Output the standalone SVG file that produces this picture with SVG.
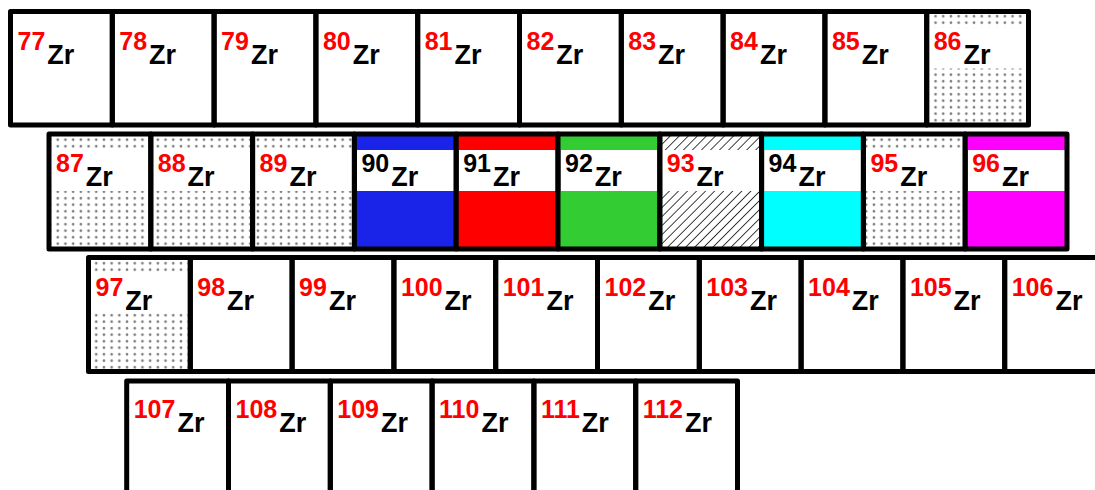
<svg xmlns="http://www.w3.org/2000/svg" width="1095" height="490" viewBox="0 0 1095 490">
<defs>
<pattern id="dots" width="7.7" height="6.5" patternUnits="userSpaceOnUse">
<circle cx="3.85" cy="3.25" r="1.3" fill="#7a7a7a"/>
</pattern>
<pattern id="hatch" width="6.4" height="6.4" patternUnits="userSpaceOnUse" patternTransform="rotate(45)">
<line x1="0" y1="0" x2="0" y2="6.4" stroke="#000" stroke-width="1.5"/>
</pattern>
<style>
.frame{fill:none;stroke:#000;stroke-width:5;stroke-linejoin:round}
.t{font-family:"Liberation Sans",Arial,sans-serif;font-weight:bold}
.m{font-size:25px;fill:#ff0000}
.mb{font-size:25px;fill:#000}
.z{font-size:27px;fill:#000}
.dot{fill:url(#dots)}
.hat{fill:url(#hatch)}
.blue{fill:#1a24e8}
.red{fill:#ff0000}
.green{fill:#33cc33}
.cyan{fill:#00ffff}
.mag{fill:#ff00ff}
</style>
</defs>
<rect width="1095" height="490" fill="#fff"/>

<!-- Row 1 -->
<g id="n77"><rect class="frame" x="10.5" y="11.5" width="101.8" height="113.5"/><text class="t" x="17.5" y="49.5"><tspan class="m">77</tspan><tspan class="z" dx="2" dy="14">Zr</tspan></text></g>
<g id="n78"><rect class="frame" x="112.3" y="11.5" width="101.8" height="113.5"/><text class="t" x="119.3" y="49.5"><tspan class="m">78</tspan><tspan class="z" dx="2" dy="14">Zr</tspan></text></g>
<g id="n79"><rect class="frame" x="214.1" y="11.5" width="101.8" height="113.5"/><text class="t" x="221.1" y="49.5"><tspan class="m">79</tspan><tspan class="z" dx="2" dy="14">Zr</tspan></text></g>
<g id="n80"><rect class="frame" x="315.9" y="11.5" width="101.8" height="113.5"/><text class="t" x="322.9" y="49.5"><tspan class="m">80</tspan><tspan class="z" dx="2" dy="14">Zr</tspan></text></g>
<g id="n81"><rect class="frame" x="417.7" y="11.5" width="101.8" height="113.5"/><text class="t" x="424.7" y="49.5"><tspan class="m">81</tspan><tspan class="z" dx="2" dy="14">Zr</tspan></text></g>
<g id="n82"><rect class="frame" x="519.5" y="11.5" width="101.8" height="113.5"/><text class="t" x="526.5" y="49.5"><tspan class="m">82</tspan><tspan class="z" dx="2" dy="14">Zr</tspan></text></g>
<g id="n83"><rect class="frame" x="621.3" y="11.5" width="101.8" height="113.5"/><text class="t" x="628.3" y="49.5"><tspan class="m">83</tspan><tspan class="z" dx="2" dy="14">Zr</tspan></text></g>
<g id="n84"><rect class="frame" x="723.1" y="11.5" width="101.8" height="113.5"/><text class="t" x="730.1" y="49.5"><tspan class="m">84</tspan><tspan class="z" dx="2" dy="14">Zr</tspan></text></g>
<g id="n85"><rect class="frame" x="824.9" y="11.5" width="101.8" height="113.5"/><text class="t" x="831.9" y="49.5"><tspan class="m">85</tspan><tspan class="z" dx="2" dy="14">Zr</tspan></text></g>
<g id="n86"><rect class="dot" x="926.7" y="11.5" width="101.8" height="16"/><rect class="dot" x="926.7" y="68.5" width="101.8" height="56.5"/><rect class="frame" x="926.7" y="11.5" width="101.8" height="113.5"/><text class="t" x="933.7" y="49.5"><tspan class="m">86</tspan><tspan class="z" dx="2" dy="14">Zr</tspan></text></g>

<!-- Row 2 -->
<g id="n87"><rect class="dot" x="49" y="134" width="101.8" height="16"/><rect class="dot" x="49" y="191" width="101.8" height="58"/><rect class="frame" x="49" y="134" width="101.8" height="115"/><text class="t" x="56" y="171.7"><tspan class="m">87</tspan><tspan class="z" dx="2" dy="14">Zr</tspan></text></g>
<g id="n88"><rect class="dot" x="150.8" y="134" width="101.8" height="16"/><rect class="dot" x="150.8" y="191" width="101.8" height="58"/><rect class="frame" x="150.8" y="134" width="101.8" height="115"/><text class="t" x="157.8" y="171.7"><tspan class="m">88</tspan><tspan class="z" dx="2" dy="14">Zr</tspan></text></g>
<g id="n89"><rect class="dot" x="252.6" y="134" width="101.8" height="16"/><rect class="dot" x="252.6" y="191" width="101.8" height="58"/><rect class="frame" x="252.6" y="134" width="101.8" height="115"/><text class="t" x="259.6" y="171.7"><tspan class="m">89</tspan><tspan class="z" dx="2" dy="14">Zr</tspan></text></g>
<g id="n90"><rect class="blue" x="354.4" y="134" width="101.8" height="16"/><rect class="blue" x="354.4" y="191" width="101.8" height="58"/><rect class="frame" x="354.4" y="134" width="101.8" height="115"/><text class="t" x="361.4" y="171.7"><tspan class="mb">90</tspan><tspan class="z" dx="2" dy="14">Zr</tspan></text></g>
<g id="n91"><rect class="red" x="456.2" y="134" width="101.8" height="16"/><rect class="red" x="456.2" y="191" width="101.8" height="58"/><rect class="frame" x="456.2" y="134" width="101.8" height="115"/><text class="t" x="463.2" y="171.7"><tspan class="mb">91</tspan><tspan class="z" dx="2" dy="14">Zr</tspan></text></g>
<g id="n92"><rect class="green" x="558" y="134" width="101.8" height="16"/><rect class="green" x="558" y="191" width="101.8" height="58"/><rect class="frame" x="558" y="134" width="101.8" height="115"/><text class="t" x="565" y="171.7"><tspan class="mb">92</tspan><tspan class="z" dx="2" dy="14">Zr</tspan></text></g>
<g id="n93"><rect class="hat" x="659.8" y="134" width="101.8" height="16"/><rect class="hat" x="659.8" y="191" width="101.8" height="58"/><rect class="frame" x="659.8" y="134" width="101.8" height="115"/><text class="t" x="666.8" y="171.7"><tspan class="m">93</tspan><tspan class="z" dx="2" dy="14">Zr</tspan></text></g>
<g id="n94"><rect class="cyan" x="761.6" y="134" width="101.8" height="16"/><rect class="cyan" x="761.6" y="191" width="101.8" height="58"/><rect class="frame" x="761.6" y="134" width="101.8" height="115"/><text class="t" x="768.6" y="171.7"><tspan class="mb">94</tspan><tspan class="z" dx="2" dy="14">Zr</tspan></text></g>
<g id="n95"><rect class="dot" x="863.4" y="134" width="101.8" height="16"/><rect class="dot" x="863.4" y="191" width="101.8" height="58"/><rect class="frame" x="863.4" y="134" width="101.8" height="115"/><text class="t" x="870.4" y="171.7"><tspan class="m">95</tspan><tspan class="z" dx="2" dy="14">Zr</tspan></text></g>
<g id="n96"><rect class="mag" x="965.2" y="134" width="101.8" height="16"/><rect class="mag" x="965.2" y="191" width="101.8" height="58"/><rect class="frame" x="965.2" y="134" width="101.8" height="115"/><text class="t" x="972.2" y="171.7"><tspan class="m">96</tspan><tspan class="z" dx="2" dy="14">Zr</tspan></text></g>

<!-- Row 3 -->
<g id="n97"><rect class="dot" x="88.5" y="257.5" width="101.8" height="15"/><rect class="dot" x="88.5" y="313.5" width="101.8" height="58"/><rect class="frame" x="88.5" y="257.5" width="101.8" height="114"/><text class="t" x="95.5" y="295.5"><tspan class="m">97</tspan><tspan class="z" dx="2" dy="14">Zr</tspan></text></g>
<g id="n98"><rect class="frame" x="190.3" y="257.5" width="101.8" height="114"/><text class="t" x="197.3" y="295.5"><tspan class="m">98</tspan><tspan class="z" dx="2" dy="14">Zr</tspan></text></g>
<g id="n99"><rect class="frame" x="292.1" y="257.5" width="101.8" height="114"/><text class="t" x="299.1" y="295.5"><tspan class="m">99</tspan><tspan class="z" dx="2" dy="14">Zr</tspan></text></g>
<g id="n100"><rect class="frame" x="393.9" y="257.5" width="101.8" height="114"/><text class="t" x="400.9" y="295.5"><tspan class="m">100</tspan><tspan class="z" dx="2" dy="14">Zr</tspan></text></g>
<g id="n101"><rect class="frame" x="495.7" y="257.5" width="101.8" height="114"/><text class="t" x="502.7" y="295.5"><tspan class="m">101</tspan><tspan class="z" dx="2" dy="14">Zr</tspan></text></g>
<g id="n102"><rect class="frame" x="597.5" y="257.5" width="101.8" height="114"/><text class="t" x="604.5" y="295.5"><tspan class="m">102</tspan><tspan class="z" dx="2" dy="14">Zr</tspan></text></g>
<g id="n103"><rect class="frame" x="699.3" y="257.5" width="101.8" height="114"/><text class="t" x="706.3" y="295.5"><tspan class="m">103</tspan><tspan class="z" dx="2" dy="14">Zr</tspan></text></g>
<g id="n104"><rect class="frame" x="801.1" y="257.5" width="101.8" height="114"/><text class="t" x="808.1" y="295.5"><tspan class="m">104</tspan><tspan class="z" dx="2" dy="14">Zr</tspan></text></g>
<g id="n105"><rect class="frame" x="902.9" y="257.5" width="101.8" height="114"/><text class="t" x="909.9" y="295.5"><tspan class="m">105</tspan><tspan class="z" dx="2" dy="14">Zr</tspan></text></g>
<g id="n106"><rect class="frame" x="1004.7" y="257.5" width="101.8" height="114"/><text class="t" x="1011.7" y="295.5"><tspan class="m">106</tspan><tspan class="z" dx="2" dy="14">Zr</tspan></text></g>

<!-- Row 4 -->
<g id="n107"><rect class="frame" x="126.7" y="381" width="101.8" height="120"/><text class="t" x="133.7" y="418"><tspan class="m">107</tspan><tspan class="z" dx="2" dy="14">Zr</tspan></text></g>
<g id="n108"><rect class="frame" x="228.5" y="381" width="101.8" height="120"/><text class="t" x="235.5" y="418"><tspan class="m">108</tspan><tspan class="z" dx="2" dy="14">Zr</tspan></text></g>
<g id="n109"><rect class="frame" x="330.3" y="381" width="101.8" height="120"/><text class="t" x="337.3" y="418"><tspan class="m">109</tspan><tspan class="z" dx="2" dy="14">Zr</tspan></text></g>
<g id="n110"><rect class="frame" x="432.1" y="381" width="101.8" height="120"/><text class="t" x="439.1" y="418"><tspan class="m">110</tspan><tspan class="z" dx="2" dy="14">Zr</tspan></text></g>
<g id="n111"><rect class="frame" x="533.9" y="381" width="101.8" height="120"/><text class="t" x="540.9" y="418"><tspan class="m">111</tspan><tspan class="z" dx="2" dy="14">Zr</tspan></text></g>
<g id="n112"><rect class="frame" x="635.7" y="381" width="101.8" height="120"/><text class="t" x="642.7" y="418"><tspan class="m">112</tspan><tspan class="z" dx="2" dy="14">Zr</tspan></text></g>

<g id="connectors"/>
</svg>
